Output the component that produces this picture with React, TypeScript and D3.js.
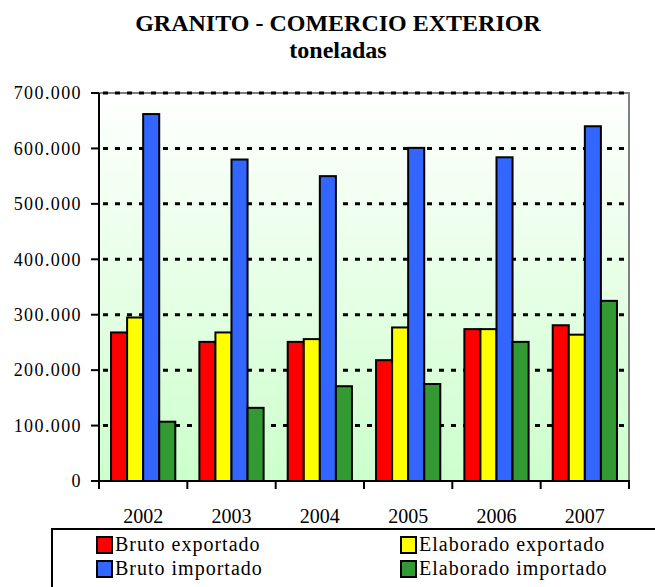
import React from "react";
import * as d3 from "d3";

const years = ["2002", "2003", "2004", "2005", "2006", "2007"];
const brutoExportado = [268000, 251000, 251000, 218000, 274000, 281000];
const elaboradoExportado = [295000, 268000, 256000, 277000, 274000, 264000];
const brutoImportado = [662000, 580000, 550000, 601000, 584000, 640000];
const elaboradoImportado = [107000, 132000, 171000, 175000, 251000, 325000];
const yTicks = [0, 100000, 200000, 300000, 400000, 500000, 600000, 700000];

const seriesNames = ["Bruto exportado", "Elaborado exportado", "Bruto importado", "Elaborado importado"];
const seriesColors = ["#ff0000", "#ffff00", "#3366ff", "#339933"];
const seriesValues = [brutoExportado, elaboradoExportado, brutoImportado, elaboradoImportado];

const W = 655;
const H = 587;
const left = 99;
const right = 629;
const top = 93;
const bottom = 481;
const FONT = "Liberation Serif";

function fmt(v: number) {
  if (v === 0) return "0";
  return d3.format(",")(v).replace(/,/g, ".");
}

export default function App() {
  const x = d3.scaleBand<string>().domain(years).range([left, right]).paddingInner(0).paddingOuter(0);
  const y = d3.scaleLinear().domain([0, 700000]).range([bottom, top]);
  const inner = d3
    .scaleBand<number>()
    .domain([0, 1, 2, 3])
    .range([0, x.bandwidth()])
    .paddingInner(0)
    .paddingOuter(0.75);

  return (
    <svg width={W} height={H} style={{ position: "absolute", left: 0, top: 0 }}>
      <defs>
        <linearGradient id="bg" x1="0" y1="0" x2="0" y2="1">
          <stop offset="0" stopColor="#ffffff" />
          <stop offset="1" stopColor="#ccffcc" />
        </linearGradient>
      </defs>
      <rect x={0} y={0} width={W} height={H} fill="#ffffff" />
      <text x={338} y={31} textAnchor="middle" style={{ fontFamily: FONT }} fontWeight="bold" fontSize={24}>
        GRANITO - COMERCIO EXTERIOR
      </text>
      <text x={338} y={58} textAnchor="middle" style={{ fontFamily: FONT }} fontWeight="bold" fontSize={24}>
        toneladas
      </text>
      <rect x={left} y={top} width={right - left} height={bottom - top} fill="url(#bg)" />
      <path d={`M${left},${top}H${right}V${bottom}`} fill="none" stroke="#808080" strokeWidth={2} />
      {yTicks.filter((t) => t > 0).map((t) => (
        <line
          key={t}
          x1={left + 2}
          x2={right - 2}
          y1={y(t)}
          y2={y(t)}
          stroke="#000"
          strokeWidth={3}
          strokeDasharray="5,7"
          strokeDashoffset={-2}
        />
      ))}
      {years.map((yr, i) =>
        seriesValues.map((vals, s) => (
          <rect
            key={yr + s}
            x={(x(yr) as number) + (inner(s) as number)}
            y={y(vals[i])}
            width={inner.bandwidth()}
            height={bottom - y(vals[i])}
            fill={seriesColors[s]}
            stroke="#000"
            strokeWidth={2}
          />
        ))
      )}
      <line x1={left} x2={left} y1={top} y2={bottom} stroke="#000" strokeWidth={2} />
      {yTicks.map((t) => (
        <g key={t}>
          <line x1={left - 8} x2={left} y1={y(t)} y2={y(t)} stroke="#000" strokeWidth={2} />
          <text
            x={left - 17}
            y={y(t)}
            dy="0.35em"
            textAnchor="end"
            style={{ fontFamily: FONT, letterSpacing: "1.4px" }}
            fontSize={18}
          >
            {fmt(t)}
          </text>
        </g>
      ))}
      <line x1={left - 8} x2={right + 1} y1={bottom} y2={bottom} stroke="#000" strokeWidth={2} />
      {years.map((yr) => (
        <line
          key={"t" + yr}
          x1={(x(yr) as number) + x.bandwidth()}
          x2={(x(yr) as number) + x.bandwidth()}
          y1={bottom}
          y2={bottom + 8}
          stroke="#000"
          strokeWidth={2}
        />
      ))}
      <line x1={left} x2={left} y1={bottom} y2={bottom + 8} stroke="#000" strokeWidth={2} />
      {years.map((yr) => (
        <text
          key={"l" + yr}
          x={(x(yr) as number) + x.bandwidth() / 2}
          y={523}
          textAnchor="middle"
          style={{ fontFamily: FONT }}
          fontSize={20}
        >
          {yr}
        </text>
      ))}
      <rect x={52} y={529} width={620} height={80} fill="#fff" stroke="#000" strokeWidth={2} />
      {seriesNames.map((name, s) => {
        const lx = s % 2 === 0 ? 97 : 401;
        const ly = s < 2 ? 545 : 569;
        return (
          <g key={name}>
            <rect x={lx} y={ly - 8} width={15} height={16} fill={seriesColors[s]} stroke="#000" strokeWidth={2} />
            <text
              x={lx + 18}
              y={ly + 6}
              style={{ fontFamily: FONT, letterSpacing: "1px" }}
              fontSize={20}
            >
              {name}
            </text>
          </g>
        );
      })}
    </svg>
  );
}
